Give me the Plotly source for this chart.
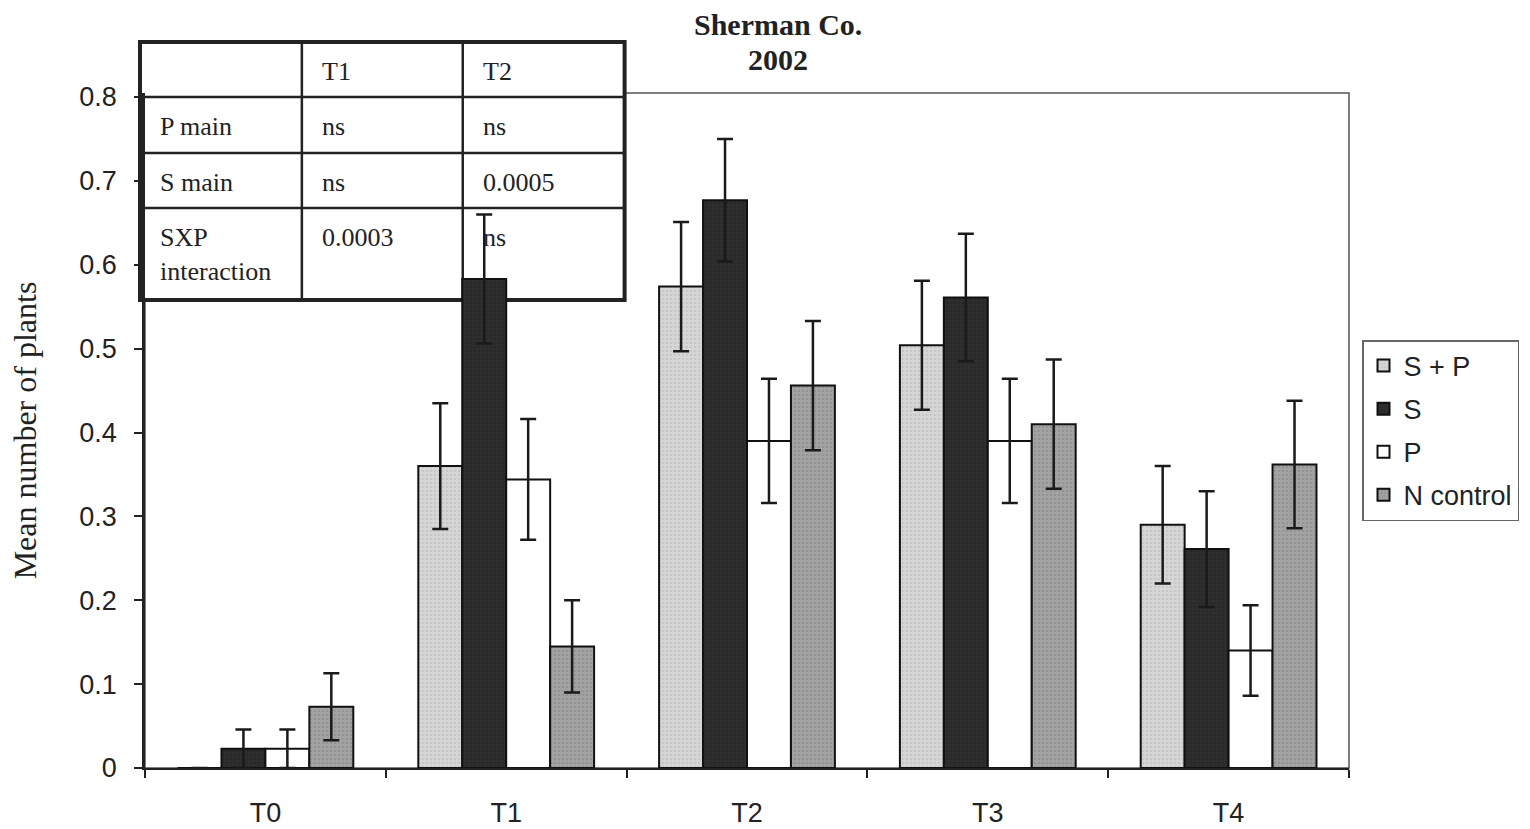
import plotly.graph_objects as go

# Mean number of plants per treatment time, Sherman Co. 2002
times = ["T0", "T1", "T2", "T3", "T4"]
series_names = ["S + P", "S", "P", "N control"]

sp_mean = [0.0, 0.360, 0.574, 0.504, 0.290]
sp_err = [0.0, 0.075, 0.077, 0.077, 0.070]
s_mean = [0.023, 0.583, 0.677, 0.561, 0.261]
s_err = [0.023, 0.077, 0.073, 0.076, 0.069]
p_mean = [0.023, 0.344, 0.390, 0.390, 0.140]
p_err = [0.023, 0.072, 0.074, 0.074, 0.054]
n_mean = [0.073, 0.145, 0.456, 0.410, 0.362]
n_err = [0.040, 0.055, 0.077, 0.077, 0.076]

# significance table shown in the upper-left corner
table_cols = ["", "T1", "T2"]
table_rows = [
    ["P main", "ns", "ns"],
    ["S main", "ns", "0.0005"],
    ["SXP<br>interaction", "0.0003", "ns"],
]

title_lines = ["Sherman Co.", "2002"]

means = [sp_mean, s_mean, p_mean, n_mean]
errs = [sp_err, s_err, p_err, n_err]
fills = ["#d6d6d6", "#2e2e2e", "#ffffff", "#a3a3a3"]
dots = ["#b8b8b8", "#222222", "#ffffff", "#858585"]

W, H = 1530, 829
L, R, T, B = 145, 1350, 93, 768
pw, ph = R - L, B - T


def px(x):
    return (x - L) / pw


def py(y):
    return (B - y) / ph


fig = go.Figure()
for name, m, e, c, d in zip(series_names, means, errs, fills, dots):
    fig.add_trace(go.Bar(
        x=times, y=m, name=name, legendgroup=name,
        marker=dict(
            color=c,
            line=dict(color="#111111", width=2),
            pattern=dict(shape="." if c != "#ffffff" else "", fgcolor=d,
                         size=4, solidity=0.35),
        ),
        error_y=dict(type="data", array=e, visible=True, color="#1a1a1a",
                     thickness=2.5, width=8),
    ))

shapes = []
# plot-area frame (thin grey top/right)
shapes.append(dict(type="rect", xref="paper", yref="paper", x0=0, x1=1, y0=0, y1=1,
                   line=dict(color="#555555", width=1.5), layer="below"))

# table grid
tx = [140, 302, 463, 625]
ty = [42, 97, 153, 208, 300]
shapes.append(dict(type="rect", xref="paper", yref="paper",
                   x0=px(tx[0]), x1=px(tx[-1]), y0=py(ty[-1]), y1=py(ty[0]),
                   fillcolor="white", line=dict(color="#222222", width=4), layer="below"))
for xv in tx[1:-1]:
    shapes.append(dict(type="line", xref="paper", yref="paper",
                       x0=px(xv), x1=px(xv), y0=py(ty[-1]), y1=py(ty[0]),
                       line=dict(color="#222222", width=2.5), layer="below"))
for yv in ty[1:-1]:
    shapes.append(dict(type="line", xref="paper", yref="paper",
                       x0=px(tx[0]), x1=px(tx[-1]), y0=py(yv), y1=py(yv),
                       line=dict(color="#222222", width=2.5), layer="below"))

annotations = []
cell_font = dict(family="Liberation Serif, Times New Roman, serif", size=26, color="#222222")
all_rows = [table_cols] + table_rows
for r, row in enumerate(all_rows):
    for c, txt in enumerate(row):
        if not txt:
            continue
        annotations.append(dict(
            xref="paper", yref="paper", x=px(tx[c] + 18), y=py(ty[r] + 13),
            xanchor="left", yanchor="top", text=txt, showarrow=False,
            align="left", font=cell_font,
        ))

# two-line bold title
title_font = dict(family="Liberation Serif, Times New Roman, serif", size=30, color="#222222")
for txt, yc in zip(title_lines, [25, 60]):
    annotations.append(dict(
        xref="paper", yref="paper", x=px(779), y=py(yc),
        xanchor="center", yanchor="middle", text="<b>" + txt + "</b>",
        showarrow=False, font=title_font,
    ))

fig.update_layout(
    width=W, height=H,
    margin=dict(l=L, r=W - R, t=T, b=H - B),
    paper_bgcolor="white", plot_bgcolor="rgba(0,0,0,0)",
    barmode="group", bargap=0.27, bargroupgap=0,
    xaxis=dict(
        type="category", tickson="boundaries", ticks="outside", ticklen=8,
        tickwidth=2, tickcolor="#222222", showline=True, linecolor="#222222",
        linewidth=2, showgrid=False, ticklabelstandoff=20, automargin=False,
        tickfont=dict(family="Liberation Sans, Arial, sans-serif", size=27, color="#222222"),
    ),
    yaxis=dict(
        range=[0, 0.8048], tickvals=[0, 0.1, 0.2, 0.3, 0.4, 0.5, 0.6, 0.7, 0.8],
        ticktext=["0", "0.1", "0.2", "0.3", "0.4", "0.5", "0.6", "0.7", "0.8"],
        ticks="outside", ticklen=8, tickwidth=2, tickcolor="#222222",
        showline=True, linecolor="#222222", linewidth=2.5, showgrid=False,
        zeroline=False, ticklabelstandoff=12, automargin=False,
        tickfont=dict(family="Liberation Sans, Arial, sans-serif", size=27, color="#222222"),
        title=dict(text="Mean number of plants", standoff=34,
                   font=dict(family="Liberation Serif, Times New Roman, serif", size=32,
                             color="#222222")),
    ),
    legend=dict(
        x=px(1362), y=py(340), xanchor="left", yanchor="top",
        bgcolor="white", bordercolor="#666666", borderwidth=1.5,
        font=dict(family="Liberation Sans, Arial, sans-serif", size=27, color="#222222"),
        traceorder="grouped", tracegroupgap=5, itemwidth=30,
    ),
    shapes=shapes,
    annotations=annotations,
    showlegend=True,
)

fig.write_html("out.html")
